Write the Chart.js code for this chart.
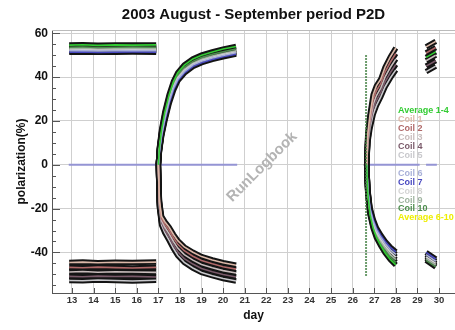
<!DOCTYPE html>
<html lang="en">
<head>
<meta charset="UTF-8">
<title>2003 August - September period P2D</title>
<script src="https://cdn.jsdelivr.net/npm/chart.js"></script>
<style>
  body { margin: 0; background: #fff; }
  #wrap { width: 455px; height: 330px; }
</style>
</head>
<body>
<div id="wrap"><canvas id="polChart" width="455" height="330"></canvas></div>
<script>
// day of each reading; null = gap between run periods
const days = [
  12.87, 13.5, 14.2, 15.0, 15.8, 16.9, null,
  17.0, 17.05, 17.15, 17.3, 17.5, 17.7, 17.9, 18.2, 18.6, 19.0, 19.5, 20.0, 20.6, null,
  26.65, 26.7, 26.8, 26.95, 27.1, 27.3, 27.5, 27.75, 28.0, null,
  29.4, 29.85
];

// polarization (%) per coil, aligned with days
const avg14 = [54.6, 54.8, 54.5, 54.7, 54.6, 54.7, null,
  0, 8, 16, 24, 32, 38, 42, 45.5, 48.3, 50, 51.5, 52.8, 54, null,
  0, -13, -22.5, -29, -33.2, -36.9, -40.1, -43.3, -45.7, null,
  49, 51.5];
const coil1 = [-44.6, -44.4, -44.7, -44.5, -44.6, -44.4, null,
  0, -16.5, -23.5, -26, -28.5, -31.8, -34.6, -37.5, -39.9, -41.9, -43.4, -44.7, -45.8, null,
  0, 14, 22.5, 32, 36, 39, 44.5, 49.3, 53.3, null,
  53.8, 56.3];
const coil2 = [-46.8, -47.0, -46.7, -46.9, -47.1, -46.8, null,
  0, -17.2, -24.5, -27.2, -30, -33.4, -36.3, -39.2, -41.7, -43.7, -45.2, -46.5, -47.6, null,
  0, 13, 21, 29.8, 33.8, 37, 42.3, 46.9, 50.8, null,
  51, 53.5];
const coil3 = [-48.9, -48.7, -49.0, -48.8, -48.9, -49.1, null,
  0, -18, -25.5, -28.5, -31.5, -35, -38, -41, -43.5, -45.5, -47, -48.3, -49.4, null,
  0, 12, 19.5, 27.5, 31.5, 35, 40, 44.5, 48.3, null,
  47.5, 50];
const coil4 = [-50.9, -51.1, -50.8, -51.0, -50.9, -51.2, null,
  0, -18.8, -26.5, -29.8, -33, -36.6, -39.7, -42.8, -45.3, -47.3, -48.8, -50.1, -51.2, null,
  0, 11, 18, 25.3, 29.3, 33, 37.8, 42.1, 45.8, null,
  45, 47.5];
const coil5 = [-52.8, -52.9, -52.6, -52.8, -53.0, -52.7, null,
  0, -19.5, -27.5, -31, -34.5, -38.2, -41.4, -44.5, -47.1, -49.1, -50.6, -51.9, -53, null,
  0, 10, 16.5, 23, 27, 31, 35.5, 39.7, 43.3, null,
  42.5, 45];
const coil6 = [52.0, 52.1, 51.9, 52.0, 52.1, 52.0, null,
  0, 6.5, 13.5, 21, 29, 35, 39, 42.5, 45.5, 47.2, 48.7, 49.9, 51.1, null,
  0, -11.4, -20.1, -25.8, -29.7, -33.1, -35.9, -38.8, -40.9, null,
  -41, -44];
const coil7 = [51.4, 51.5, 51.3, 51.4, 51.5, 51.4, null,
  0, 6, 13, 20, 28, 34, 38.3, 41.8, 44.8, 46.6, 48.1, 49.3, 50.5, null,
  0, -11, -19.5, -25, -28.8, -32.1, -34.9, -37.7, -39.7, null,
  -40, -43];
const coil8 = [52.4, 52.5, 52.3, 52.4, 52.5, 52.4, null,
  0, 6.8, 14, 21.5, 29.5, 35.4, 39.5, 43, 45.9, 47.6, 49.1, 50.3, 51.5, null,
  0, -11.8, -20.7, -26.6, -30.6, -34, -37, -39.9, -42.1, null,
  -42, -45];
const coil9 = [52.9, 53.0, 52.8, 52.9, 53.0, 52.9, null,
  0, 7, 14.5, 22, 30, 36, 40, 43.5, 46.4, 48.1, 49.6, 50.8, 52, null,
  0, -12.2, -21.3, -27.4, -31.4, -35, -38, -41.1, -43.3, null,
  -42.8, -45.8];
const coil10 = [53.6, 53.7, 53.5, 53.6, 53.7, 53.6, null,
  0, 7.5, 15, 23, 31, 37, 41, 44.5, 47.2, 48.9, 50.4, 51.6, 52.8, null,
  0, -12.6, -21.9, -28.2, -32.3, -35.9, -39.1, -42.2, -44.5, null,
  -43.6, -46.6];
const avg610 = [];

const seriesNames = ['Average 1-4', 'Coil 1', 'Coil 2', 'Coil 3', 'Coil 4', 'Coil 5',
  'Coil 6', 'Coil 7', 'Coil 8', 'Coil 9', 'Coil 10', 'Average 6-10'];
const seriesValues = [avg14, coil1, coil2, coil3, coil4, coil5,
  coil6, coil7, coil8, coil9, coil10, avg610];
const seriesColors = ['#33cc33', '#dcb8a8', '#b06868', '#c8bcbc', '#7a5a6a', '#c8c8cc',
  '#a8b0d8', '#4848c0', '#d4d4d4', '#a0b4a0', '#4c8c4c', '#eeee00'];

// zero reference line and the vertical scan at day 26.6
const zeroDays = [12.85, 20.65, null, 26.65, 29.1, null, 29.4, 29.9];
const zeroVals = [0, 0, null, 0, 0, null, 0, 0];
const scanDays = [26.62, 26.62];
const scanVals = [50, -51];

const xTicks = [13, 14, 15, 16, 17, 18, 19, 20, 21, 22, 23, 24, 25, 26, 27, 28, 29, 30];
const yMajor = [-40, -20, 0, 20, 40, 60];
const yMinor = [-55, -50, -45, -35, -30, -25, -15, -10, -5, 5, 10, 15, 25, 30, 35, 45, 50, 55];

const FONT = '"Liberation Sans", Arial, Helvetica, sans-serif';

function toPoints(xs, ys) {
    return xs.map((d, i) => ({ x: d, y: ys[i] === undefined ? null : ys[i] }));
}

const datasets = [];
seriesNames.forEach((name, i) => {
    const pts = toPoints(days, seriesValues[i].length ? seriesValues[i] : []);
    // dark outline under every coil trace
    datasets.push({
        label: name + ' outline',
        data: pts,
        borderColor: '#141414',
        borderWidth: 5.5,
        pointRadius: 0,
        order: 3
    });
    datasets.push({
        label: name,
        data: pts,
        borderColor: seriesColors[i],
        borderWidth: 1.6,
        pointRadius: 0,
        order: 2
    });
});
datasets.push({
    label: 'zero',
    data: toPoints(zeroDays, zeroVals),
    borderColor: '#9494d4',
    borderWidth: 2,
    pointRadius: 0,
    order: 4
});
datasets.push({
    label: 'scan',
    data: toPoints(scanDays, scanVals),
    borderColor: '#3c7c3c',
    borderWidth: 2,
    borderDash: [1.5, 1.5],
    pointRadius: 0,
    order: 1
});

const watermark = {
    id: 'watermark',
    beforeDatasetsDraw(chart) {
        const ctx = chart.ctx;
        ctx.save();
        ctx.translate(262, 167);
        ctx.rotate(-Math.PI / 4);
        ctx.font = 'bold 15px ' + FONT;
        ctx.fillStyle = '#b4b4b4';
        ctx.textAlign = 'center';
        ctx.textBaseline = 'middle';
        ctx.fillText('RunLogbook', 0, 0);
        ctx.restore();
    }
};

const axisDecor = {
    id: 'axisDecor',
    afterDraw(chart) {
        const { ctx, chartArea: a, scales: { x, y } } = chart;
        ctx.save();
        ctx.strokeStyle = '#555';
        ctx.lineWidth = 1;
        ctx.beginPath();
        yMinor.concat(yMajor).forEach(v => {
            const p = Math.round(y.getPixelForValue(v)) + 0.5;
            const len = v % 20 === 0 ? 8 : 4;
            ctx.moveTo(a.left, p);
            ctx.lineTo(a.left + len, p);
        });
        xTicks.forEach(d => {
            const p = Math.round(x.getPixelForValue(d)) + 0.5;
            ctx.moveTo(p, a.bottom);
            ctx.lineTo(p, a.bottom - 5);
        });
        ctx.stroke();
        ctx.strokeStyle = '#bbb';
        ctx.beginPath();
        ctx.moveTo(a.left, a.top + 0.5);
        ctx.lineTo(a.right, a.top + 0.5);
        ctx.stroke();
        ctx.restore();
    }
};

const coilLabels = {
    id: 'coilLabels',
    afterDatasetsDraw(chart) {
        const ctx = chart.ctx;
        ctx.save();
        ctx.font = 'bold 9px ' + FONT;
        ctx.textBaseline = 'middle';
        seriesNames.forEach((name, i) => {
            const ly = i < 6 ? 111 + i * 9 : 174 + (i - 6) * 8.7;
            ctx.fillStyle = seriesColors[i];
            ctx.fillText(name, 398, ly);
        });
        ctx.restore();
    }
};

new Chart(document.getElementById('polChart'), {
    type: 'line',
    data: { datasets: datasets },
    options: {
        responsive: false,
        animation: false,
        layout: { padding: 0 },
        plugins: {
            legend: { display: false },
            tooltip: { enabled: false },
            title: {
                display: true,
                fullSize: false,
                text: '2003 August - September period P2D',
                color: '#111',
                font: { family: FONT, size: 15, weight: 'bold' },
                padding: { top: 6, bottom: 6 }
            }
        },
        scales: {
            x: {
                type: 'linear',
                min: 12.074,
                max: 30.74,
                afterBuildTicks: s => { s.ticks = xTicks.map(v => ({ value: v })); },
                afterFit: s => { s.height = 37; },
                ticks: {
                    color: '#333',
                    font: { family: FONT, size: 9.5, weight: 'bold' },
                    padding: 2,
                    maxRotation: 0,
                    autoSkip: false
                },
                grid: { color: '#cfcfcf', drawTicks: false },
                border: { color: '#555' },
                title: {
                    display: true,
                    text: 'day',
                    color: '#111',
                    font: { family: FONT, size: 12, weight: 'bold' },
                    padding: { top: 0, bottom: 7 }
                }
            },
            y: {
                min: -58.5,
                max: 61.5,
                afterBuildTicks: s => { s.ticks = yMajor.map(v => ({ value: v })); },
                afterFit: s => { s.width = 52; },
                ticks: {
                    color: '#111',
                    font: { family: FONT, size: 12, weight: 'bold' },
                    padding: 4
                },
                grid: { color: '#cfcfcf', drawTicks: false },
                border: { color: '#555' },
                title: {
                    display: true,
                    text: 'polarization(%)',
                    color: '#111',
                    font: { family: FONT, size: 12, weight: 'bold' },
                    padding: { top: 14, bottom: 0 }
                }
            }
        }
    },
    plugins: [watermark, axisDecor, coilLabels]
});
</script>
</body>
</html>
